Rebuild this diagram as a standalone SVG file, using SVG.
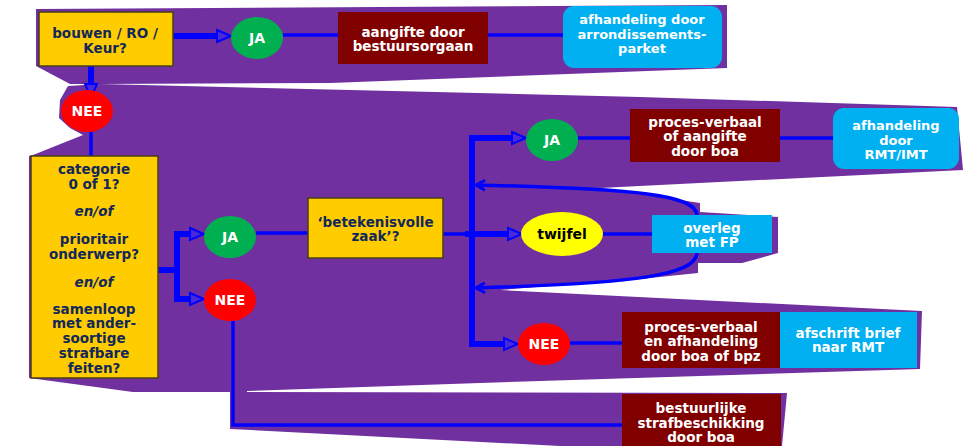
<svg xmlns="http://www.w3.org/2000/svg" width="976" height="446" viewBox="0 0 976 446">
<style>
.bg{fill:#7030A0}
.yb{fill:#FFCC00;stroke:#4a3c14;stroke-width:1.5}
.mr{fill:#800000}
.lb{fill:#00B0F0}
.ja{fill:#00B050}
.nee{fill:#FF0000}
.tw{fill:#FFFF00}
text{font-family:"DejaVu Sans",Verdana,sans-serif;font-weight:bold;font-size:13.5px;text-anchor:middle;fill:#fff}
.ty{fill:#12285a;font-size:13.5px}
.tk{fill:#000;font-size:14px}
.tc{font-size:14px}
.ts{font-size:13px}
.it{font-style:italic}
.thick{stroke:#0000FF;stroke-width:6;fill:none}
.thin{stroke:#0000FF;stroke-width:3.5;fill:none}
</style>
<defs>
<marker id="ah" markerUnits="userSpaceOnUse" viewBox="-2 -8 18 16" markerWidth="18" markerHeight="16" refX="0" refY="0" orient="auto" overflow="visible">
<path d="M0,-6 L14,0 L0,6 Z" fill="#4b28d8" stroke="#0000FF" stroke-width="2"/>
</marker>
<marker id="ch" markerUnits="userSpaceOnUse" viewBox="-2 -8 14 16" markerWidth="14" markerHeight="16" refX="0" refY="0" orient="auto" overflow="visible">
<path d="M9,-5 L0,0 L9,5" fill="none" stroke="#0000FF" stroke-width="3"/>
</marker>
</defs>

<g id="background">
<polygon class="bg" points="36,9 727,5 727,68 330,83 100,84 70,84 36,66"/>
<polygon class="bg" points="68,86 100,84 640,97 957,107 963,170 600,188 700,203 700,212 778,217 778,253 742,263 698,263 698,273 640,279 500,290 922,311 920,369 480,383 247,391 247,392 787,393 782,446 560,446 230,429 230,392 133,392 29,378 29,156 33,155 83,135 70,128 59,118 60,100"/>
</g>

<g id="connectors">
<path class="thick" d="M173,36 H217" marker-end="url(#ah)"/>
<path class="thick" d="M91,66 V84" stroke-width="7" marker-end="url(#ah)"/>
<path class="thin" d="M283,35 H338"/>
<path class="thin" d="M488,35 H563"/>
<path class="thin" d="M91,132 V156"/>
<path class="thick" d="M158,270 H180" stroke-width="7"/>
<path class="thick" d="M177,231 V302"/>
<path class="thick" d="M174,234 H190" marker-end="url(#ah)"/>
<path class="thick" d="M174,299 H190" marker-end="url(#ah)"/>
<path class="thin" d="M256,233 H308"/>
<path class="thin" d="M233,321 V425 H622"/>
<path class="thin" d="M443,234 H465" stroke-width="4"/>
<path class="thick" d="M465,234 H508" marker-end="url(#ah)"/>
<path class="thick" d="M472,135 V347" stroke-width="5"/>
<path class="thick" d="M469,138 H512" marker-end="url(#ah)"/>
<path class="thick" d="M469,344 H504" marker-end="url(#ah)"/>
<path class="thin" d="M578,138 H630"/>
<path class="thin" d="M780,138 H833"/>
<path class="thin" d="M603,234 H652"/>
<path class="thin" d="M570,343 H622"/>
<path class="thin" d="M476,185 C640,189 695,195 697,215" stroke-width="3" marker-start="url(#ch)"/>
<path class="thin" d="M476,288 C640,283 695,275 697,253" stroke-width="3" marker-start="url(#ch)"/>
</g>

<g id="n-bouwen">
<rect class="yb" x="39" y="12" width="134" height="54"/>
<text class="ty" x="105" y="37.5">bouwen / RO /</text>
<text class="ty" x="105" y="52.5">Keur?</text>
</g>
<g id="n-ja1">
<ellipse class="ja" cx="257" cy="38" rx="26" ry="21"/>
<text class="tc" x="257" y="43">JA</text>
</g>
<g id="n-aangifte">
<rect class="mr" x="338" y="12" width="150" height="52"/>
<text x="413" y="36.5">aangifte door</text>
<text x="413" y="51">bestuursorgaan</text>
</g>
<g id="n-arrondissement">
<rect class="lb" x="563" y="6" width="159" height="62" rx="11"/>
<text class="ts" x="642" y="23.5">afhandeling door</text>
<text class="ts" x="642" y="38.5">arrondissements-</text>
<text class="ts" x="642" y="53">parket</text>
</g>
<g id="n-nee1">
<ellipse class="nee" cx="87" cy="111" rx="26" ry="21"/>
<text class="tc" x="87" y="116">NEE</text>
</g>
<g id="n-categorie">
<rect class="yb" x="31" y="156" width="127" height="222"/>
<text class="ty" x="94" y="174">categorie</text>
<text class="ty" x="94" y="188.5">0 of 1?</text>
<text class="ty it" x="94" y="216">en/of</text>
<text class="ty" x="94" y="244">prioritair</text>
<text class="ty" x="94" y="258.5">onderwerp?</text>
<text class="ty it" x="94" y="287">en/of</text>
<text class="ty" x="94" y="313.5">samenloop</text>
<text class="ty" x="94" y="328">met ander-</text>
<text class="ty" x="94" y="343">soortige</text>
<text class="ty" x="94" y="358">strafbare</text>
<text class="ty" x="94" y="372.5">feiten?</text>
</g>
<g id="n-ja2">
<ellipse class="ja" cx="230" cy="237" rx="26" ry="21"/>
<text class="tc" x="230" y="241.5">JA</text>
</g>
<g id="n-nee2">
<ellipse class="nee" cx="230" cy="300" rx="26" ry="21"/>
<text class="tc" x="230" y="305">NEE</text>
</g>
<g id="n-betekenisvol">
<rect class="yb" x="308" y="198" width="135" height="60"/>
<text class="ty" x="375.5" y="226.5">‘betekenisvolle</text>
<text class="ty" x="375.5" y="241">zaak’?</text>
</g>
<g id="n-ja3">
<ellipse class="ja" cx="552" cy="140" rx="26" ry="21"/>
<text class="tc" x="552" y="145">JA</text>
</g>
<g id="n-proces1">
<rect class="mr" x="630" y="109" width="150" height="53"/>
<text x="705" y="126.5">proces-verbaal</text>
<text x="705" y="141">of aangifte</text>
<text x="705" y="156">door boa</text>
</g>
<g id="n-rmt-imt">
<rect class="lb" x="833" y="108" width="126" height="61" rx="11"/>
<text class="ts" x="896" y="129.5">afhandeling</text>
<text class="ts" x="896" y="144.5">door</text>
<text class="ts" x="896" y="159">RMT/IMT</text>
</g>
<g id="n-twijfel">
<ellipse class="tw" cx="562" cy="234" rx="41" ry="22"/>
<text class="tk" x="562" y="239">twijfel</text>
</g>
<g id="n-overleg">
<rect class="lb" x="652" y="215" width="120" height="38"/>
<text x="712" y="232.5">overleg</text>
<text x="712" y="247">met FP</text>
</g>
<g id="n-nee3">
<ellipse class="nee" cx="544" cy="344" rx="26" ry="21"/>
<text class="tc" x="544" y="349">NEE</text>
</g>
<g id="n-proces2">
<rect class="mr" x="622" y="312" width="158" height="56"/>
<text x="701" y="331.5">proces-verbaal</text>
<text x="701" y="346">en afhandeling</text>
<text x="701" y="360.5">door boa of bpz</text>
</g>
<g id="n-afschrift">
<rect class="lb" x="780" y="312" width="137" height="56"/>
<text x="848" y="337.5">afschrift brief</text>
<text x="848" y="352">naar RMT</text>
</g>
<g id="n-bestuurlijk">
<rect class="mr" x="622" y="394" width="159" height="60"/>
<text x="701" y="412.5">bestuurlijke</text>
<text x="701" y="427.5">strafbeschikking</text>
<text x="701" y="442">door boa</text>
</g>
</svg>
